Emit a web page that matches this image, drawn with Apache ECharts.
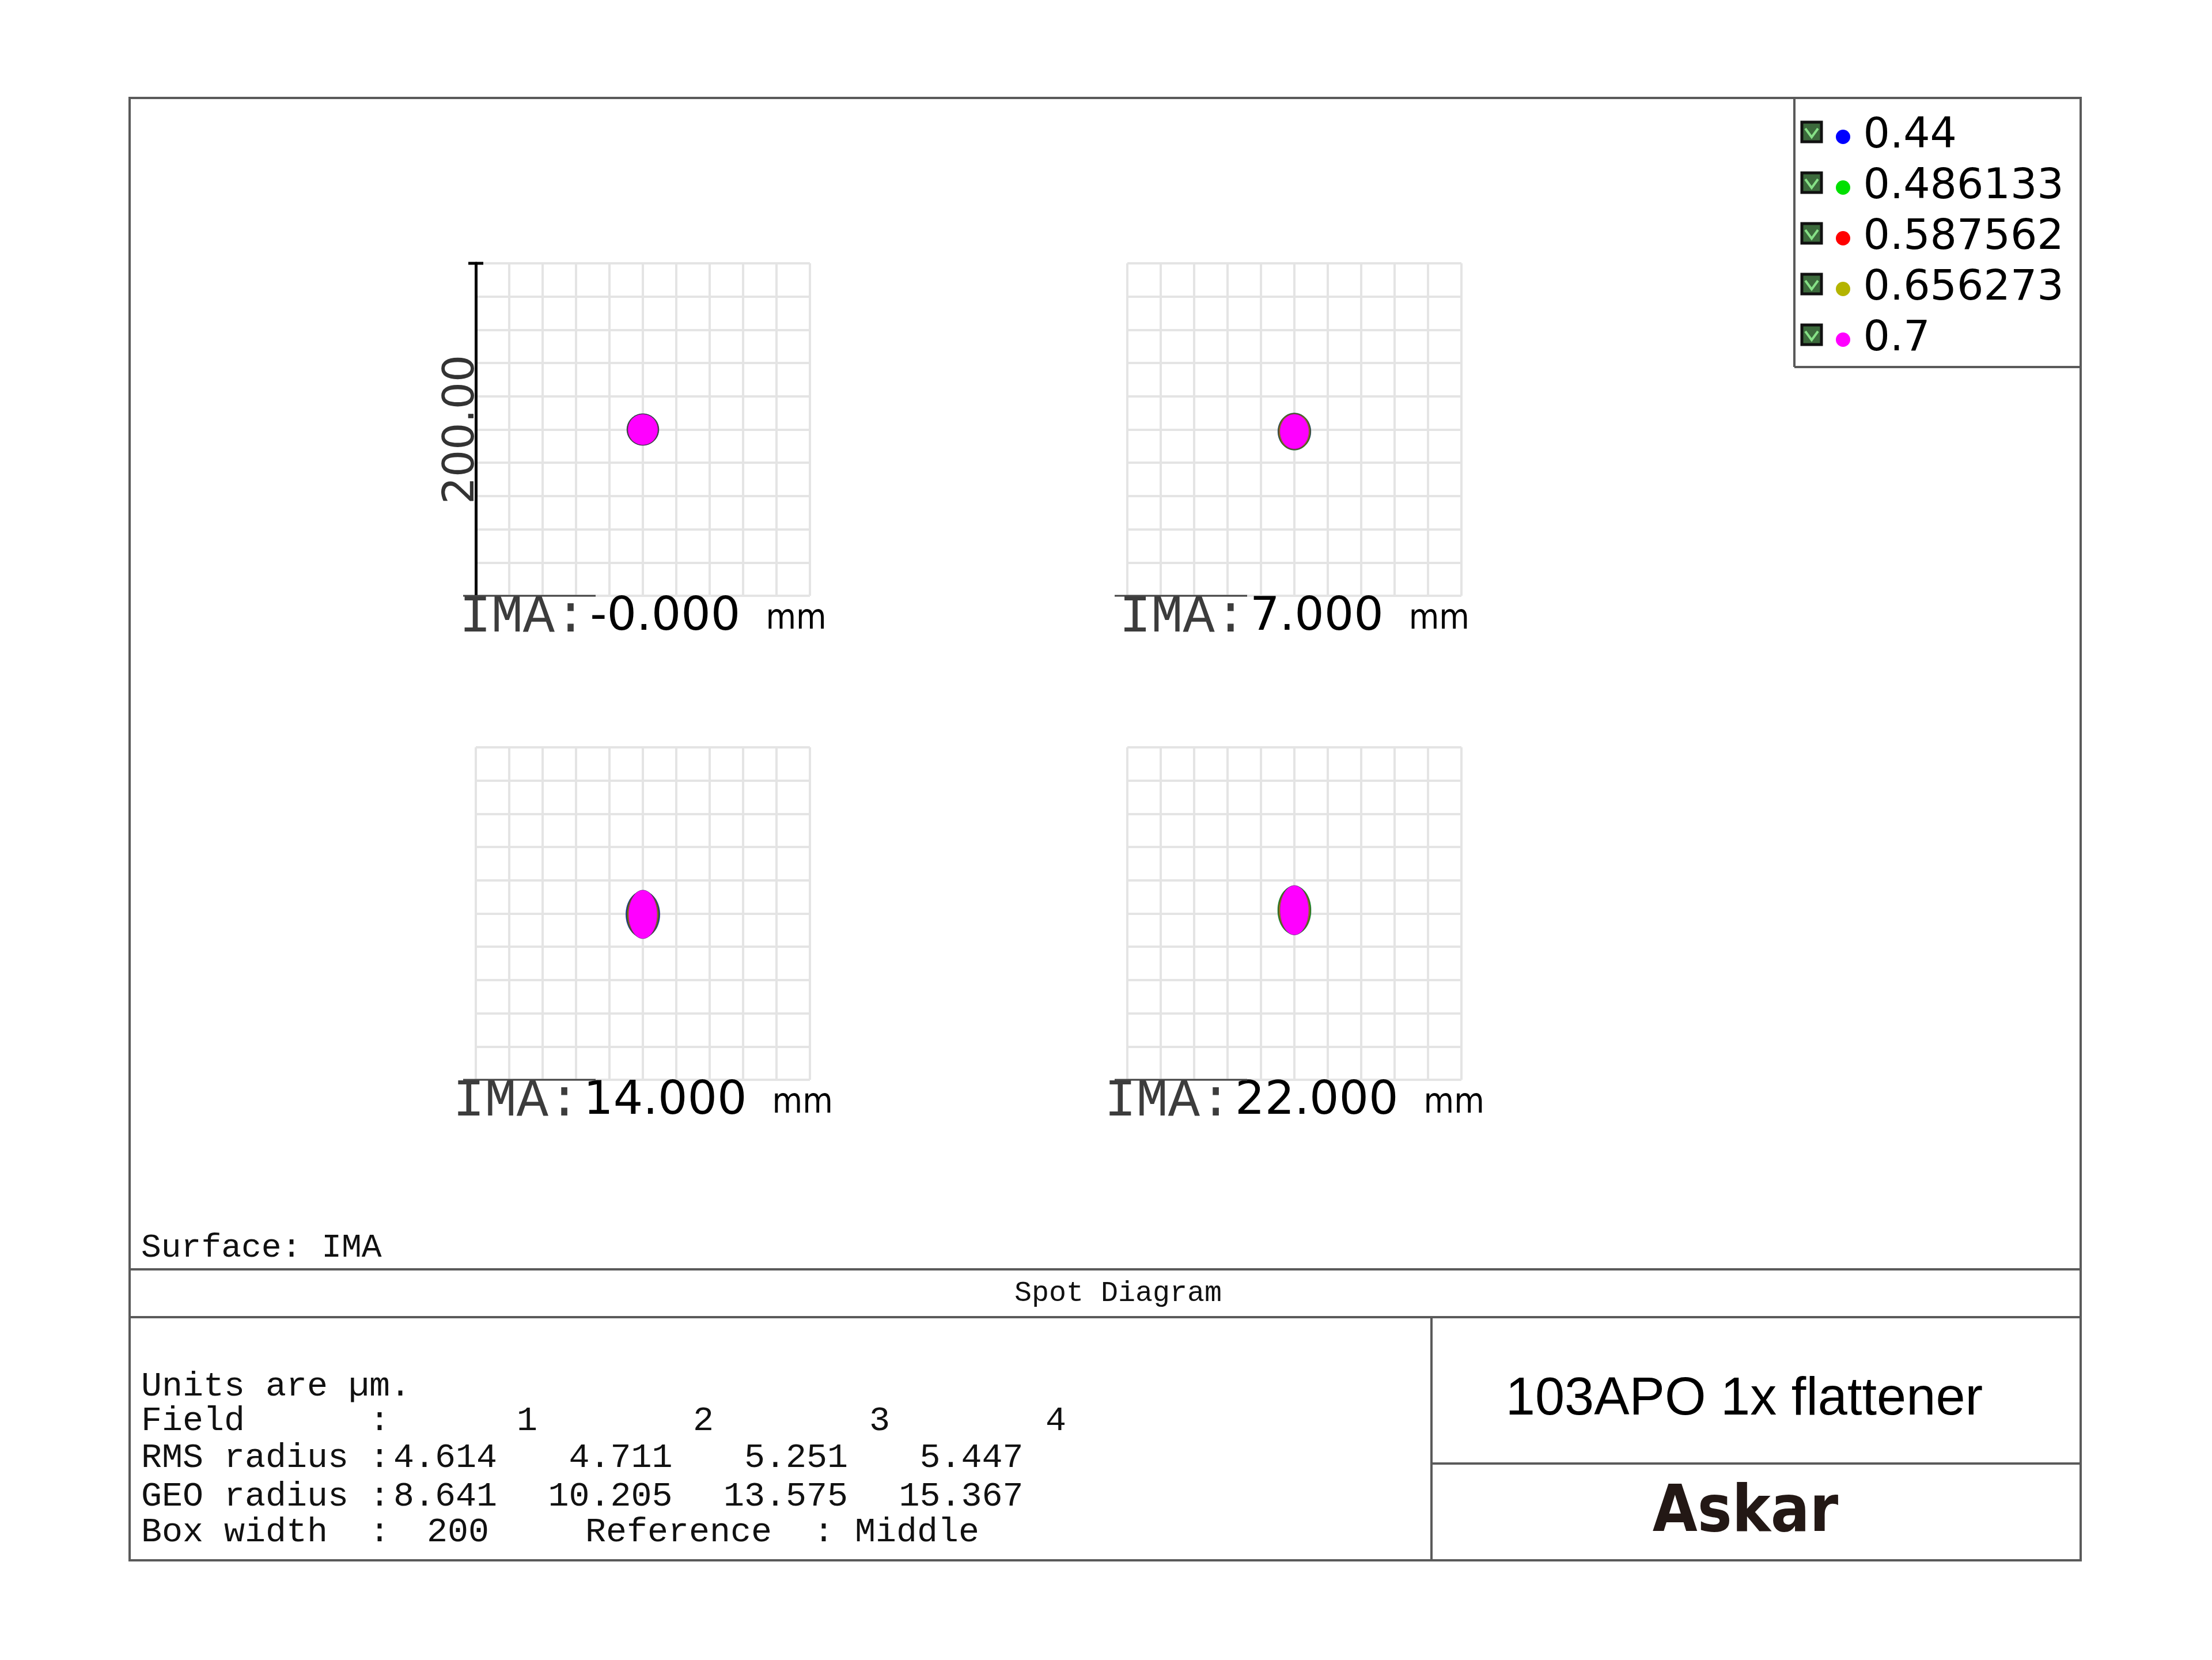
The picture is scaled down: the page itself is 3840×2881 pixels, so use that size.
<!DOCTYPE html>
<html>
<head>
<meta charset="utf-8">
<script src="https://cdn.jsdelivr.net/npm/echarts@6/dist/echarts.min.js"></script>
<style>
  html, body { margin: 0; padding: 0; background: #fff; }
  #chart { width: 3840px; height: 2881px; }
</style>
</head>
<body>
<div id="chart"></div>
<script>
// wavelengths (µm) and their plot colours
const wavelengths = ['0.44', '0.486133', '0.587562', '0.656273', '0.7']
const waveColors = ['#0000ff', '#00e000', '#ff0000', '#b4b400', '#ff00ff']

// field heights on the image surface (mm)
const fieldHeights = ['-0.000', '7.000', '14.000', '22.000']
const fieldNums = ['1', '2', '3', '4']
const rmsRadius = ['4.614', '4.711', '5.251', '5.447']
const geoRadius = ['8.641', '10.205', '13.575', '15.367']
const boxWidth = 200

// spot centre per field, µm from the reference ray
const spotX = [0, 0, 0, 0]
const spotY = [0, -1.2, -0.5, 2]
// spot half extents per wavelength (rows) and field (cols), µm
const spotRx = [
  [9.6, 9.9, 10.2, 9.8],
  [9.5, 9.8, 9.8, 10.0],
  [9.3, 9.5, 9.4, 9.5],
  [9.1, 9.2, 9.1, 9.2],
  [9.0, 8.7, 8.6, 8.6]
]
const spotRy = [
  [9.5, 11.0, 13.9, 14.2],
  [9.5, 11.2, 14.1, 14.6],
  [9.4, 10.9, 14.1, 14.4],
  [9.3, 10.7, 14.0, 14.4],
  [9.3, 10.5, 14.6, 14.9]
]

const gridLefts = [826, 1957, 826, 1957]
const gridTops = [457, 457, 1297, 1297]
const boxW = 580
const boxH = 577

const chart = echarts.init(document.getElementById('chart'))

const grids = []
const xAxes = []
const yAxes = []
for (let g = 0; g < 4; g++) {
  grids.push({ left: gridLefts[g], top: gridTops[g], width: boxW, height: boxH })
  xAxes.push({
    gridIndex: g,
    type: 'value',
    min: -boxWidth / 2,
    max: boxWidth / 2,
    interval: boxWidth / 10,
    axisLine: { show: false },
    axisTick: { show: false },
    axisLabel: { show: false },
    splitLine: { lineStyle: { color: '#e4e4e4', width: 4 } },
    name: '{a|IMA:}{b|' + fieldHeights[g] + '}{c|mm}',
    nameLocation: 'middle',
    nameGap: -8,
    nameTextStyle: {
      rich: {
        a: { fontFamily: 'Liberation Mono', fontSize: 92, color: '#3c3c3c', padding: [0, 6, 0, 0] },
        b: { fontFamily: 'DejaVu Sans', fontSize: 81, color: '#000' },
        c: { fontFamily: '"DejaVu Sans Condensed", sans-serif', fontSize: 60, color: '#000', padding: [6, 0, 0, 44] }
      }
    }
  })
  yAxes.push({
    gridIndex: g,
    type: 'value',
    min: -boxWidth / 2,
    max: boxWidth / 2,
    interval: boxWidth / 10,
    axisLine: g === 0
      ? { show: true, onZero: false, symbol: ['none', 'rect'], symbolSize: [26, 5], lineStyle: { color: '#000', width: 5 } }
      : { show: false },
    axisTick: { show: false },
    axisLabel: { show: false },
    splitLine: { lineStyle: { color: '#e4e4e4', width: 4 } },
    name: g === 0 ? boxWidth.toFixed(2) : '',
    nameLocation: 'middle',
    nameRotate: 90,
    nameGap: -14,
    nameTextStyle: { fontFamily: 'DejaVu Sans', fontSize: 74, color: '#333' }
  })
}

function renderSpot (params, api) {
  const c = api.coord([api.value(0), api.value(1)])
  const s = api.size([api.value(2), api.value(3)])
  return {
    type: 'ellipse',
    shape: { cx: c[0], cy: c[1], rx: s[0], ry: s[1] },
    style: { fill: api.visual('color'), stroke: 'rgba(40,40,80,0.5)', lineWidth: 1 }
  }
}

const series = []
for (let w = 0; w < wavelengths.length; w++) {
  for (let g = 0; g < 4; g++) {
    series.push({
      name: wavelengths[w],
      type: 'custom',
      xAxisIndex: g,
      yAxisIndex: g,
      itemStyle: { color: waveColors[w] },
      renderItem: renderSpot,
      data: [[spotX[g], spotY[g], spotRx[w][g], spotRy[w][g]]],
      animation: false
    })
  }
}

function txt (x, y, text, font, align, fill) {
  return {
    type: 'text',
    x: x,
    y: y,
    style: {
      text: text,
      font: font,
      fill: fill || '#111',
      align: align,
      verticalAlign: 'middle',
      textAlign: align,
      textVerticalAlign: 'middle'
    }
  }
}

function ln (x1, y1, x2, y2, color, width) {
  return {
    type: 'line',
    z: 10,
    shape: { x1: x1, y1: y1, x2: x2, y2: y2 },
    style: { stroke: color || '#5a5a5a', lineWidth: width || 4 }
  }
}

const mono = '"Liberation Mono", "Courier New", monospace'
const graphics = [
  { type: 'rect', shape: { x: 225, y: 170, width: 3387, height: 2538 }, style: { fill: null, stroke: '#5a5a5a', lineWidth: 4 } },
  ln(3115, 170, 3115, 637),
  ln(3115, 637, 3612, 637),
  ln(225, 2203, 3612, 2203),
  ln(225, 2286, 3612, 2286),
  ln(2485, 2286, 2485, 2708),
  ln(2485, 2540, 3612, 2540),
  txt(245, 2166, 'Surface: IMA', '58px ' + mono, 'left'),
  txt(1941, 2245, 'Spot Diagram', '50px ' + mono, 'center'),
  txt(245, 2406, 'Units are µm.', '60px ' + mono, 'left'),
  txt(245, 2466, 'Field      :', '60px ' + mono, 'left'),
  txt(245, 2530, 'RMS radius :', '60px ' + mono, 'left'),
  txt(245, 2597, 'GEO radius :', '60px ' + mono, 'left'),
  txt(245, 2659, 'Box width  :', '60px ' + mono, 'left'),
  txt(849, 2659, String(boxWidth), '60px ' + mono, 'right'),
  txt(1016, 2659, 'Reference  : Middle', '60px ' + mono, 'left'),
  txt(3028, 2430, '103APO 1x flattener', '92px "Liberation Sans", Arial, sans-serif', 'center', '#000'),
  txt(3030, 2628, 'Askar', 'bold 112px "DejaVu Sans Condensed", "DejaVu Sans", sans-serif', 'center', '#231815')
]
for (let i = 0; i < fieldNums.length; i++) {
  graphics.push(txt(915 + i * 306, 2466, fieldNums[i], '60px ' + mono, 'center'))
  graphics.push(txt(863 + i * 304.5, 2530, rmsRadius[i], '60px ' + mono, 'right'))
  graphics.push(txt(863 + i * 304.5, 2597, geoRadius[i], '60px ' + mono, 'right'))
}
// short dark rule under each "IMA:" label
for (let g = 0; g < 4; g++) {
  graphics.push(ln(gridLefts[g] - 22, gridTops[g] + boxH, gridLefts[g] + 208, gridTops[g] + boxH, '#444', 3))
}
// legend check boxes
const legendTop = 201
const legendRow0 = 229
const legendStep = 88
for (let i = 0; i < wavelengths.length; i++) {
  const cy = legendRow0 + i * legendStep
  graphics.push({ type: 'rect', shape: { x: 3128, y: cy - 17, width: 34, height: 34 }, style: { fill: '#3c6a3c', stroke: '#111', lineWidth: 5 } })
  graphics.push({ type: 'polyline', shape: { points: [[3134, cy - 6], [3145, cy + 9], [3156, cy - 6]] }, style: { stroke: '#86e086', lineWidth: 4, fill: null } })
}

chart.setOption({
  backgroundColor: '#fff',
  animation: false,
  grid: grids,
  xAxis: xAxes,
  yAxis: yAxes,
  legend: {
    orient: 'vertical',
    left: 3187,
    top: legendTop,
    padding: 0,
    itemWidth: 60,
    itemHeight: 25,
    itemGap: 15,
    icon: 'circle',
    data: wavelengths,
    textStyle: { fontFamily: 'DejaVu Sans', fontSize: 73, lineHeight: 70, color: '#000' }
  },
  graphic: graphics,
  series: series
})
</script>
</body>
</html>
